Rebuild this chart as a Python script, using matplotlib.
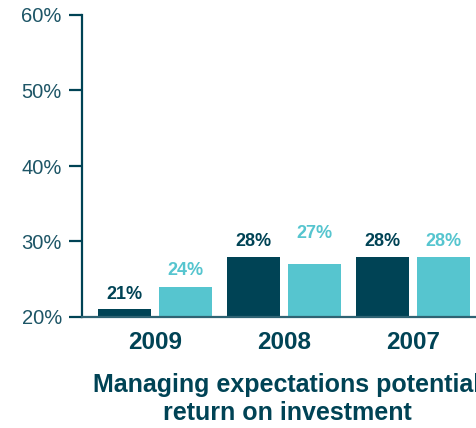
import matplotlib
matplotlib.use("Agg")
import matplotlib.pyplot as plt
import numpy as np

years = ["2009", "2008", "2007"]
dark_vals = [21, 28, 28]
light_vals = [24, 27, 28]
yticks = [20, 30, 40, 50, 60]

DARK = "#004355"
LIGHT = "#56c5cf"
TXT = "#1d5566"
FAM = ['Liberation Sans', 'DejaVu Sans']
plt.rcParams['font.family'] = FAM

# label distance above bar top (px)
dark_pad = [15, 15, 15]
light_pad = [16, 31, 15]

fig = plt.figure(figsize=(4.76, 4.28), dpi=100)
ax = fig.add_axes([82/476, 111/428, 1 - 82/476, (317-15)/428])

x = np.arange(len(years))
w = 0.411
off = 0.236
ax.bar(x - off, np.array(dark_vals) - 20, w, bottom=20, color=DARK, zorder=2)
ax.bar(x + off, np.array(light_vals) - 20, w, bottom=20, color=LIGHT, zorder=2)

for i in range(len(years)):
    ax.annotate(f"{dark_vals[i]}%", (x[i] - off, dark_vals[i]), xytext=(0, dark_pad[i] * 0.72),
                textcoords="offset points", ha="center", va="center", color=DARK,
                fontsize=13, fontweight="bold")
    ax.annotate(f"{light_vals[i]}%", (x[i] + off, light_vals[i]), xytext=(0, light_pad[i] * 0.72),
                textcoords="offset points", ha="center", va="center", color=LIGHT,
                fontsize=13, fontweight="bold")

ax.set_xlim(-0.566, 2.488)
ax.set_ylim(20, 60)
ax.set_yticks(yticks)
ax.set_yticklabels([f"{t}%" for t in yticks], color=TXT, fontsize=14.5)
ax.tick_params(axis="y", length=9.5, width=1.6, color=DARK, pad=5)
ax.set_xticks(x)
ax.set_xticklabels(years, fontsize=17.5, fontweight="bold", color=DARK)
ax.tick_params(axis="x", length=0, pad=10)

for s in ["top", "right"]:
    ax.spines[s].set_visible(False)
ax.spines["left"].set_color(DARK)
ax.spines["left"].set_linewidth(1.6)
ax.spines["bottom"].set_color("#2f6373")
ax.spines["bottom"].set_linewidth(1.6)
ax.spines["bottom"].set_zorder(3)

fig.text(287/476, 1 - 399/428, "Managing expectations potential\nreturn on investment",
         ha="center", va="center", fontsize=18, fontweight="bold", color=DARK,
         linespacing=1.25)

fig.savefig("out.png", dpi=100)
